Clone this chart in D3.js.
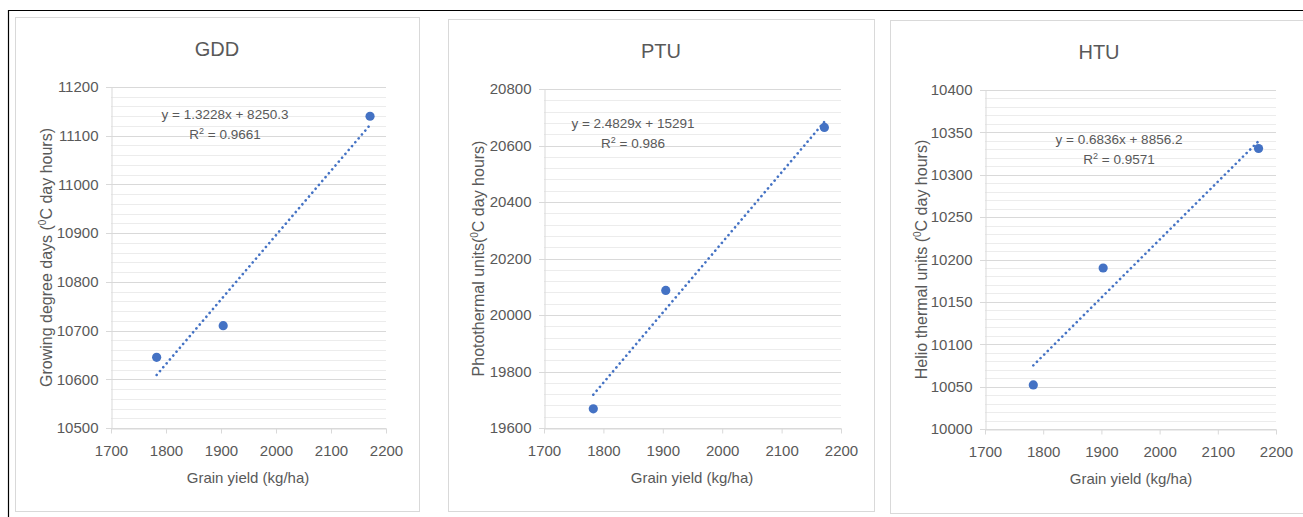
<!DOCTYPE html>
<html>
<head>
<meta charset="utf-8">
<script src="https://cdn.jsdelivr.net/npm/d3@7"></script>
<style>
  body { margin: 0; background: #fff; }
  svg text { font-family: "Liberation Sans", Arial, sans-serif; fill: #595959; }
</style>
</head>
<body>
<div id="chart"></div>
<script>
// data
const titles = ["GDD", "PTU", "HTU"];
const yLabels = ["Growing degree days (", "Photothermal units(", "Helio thermal units ("];
const xTicks = [1700, 1800, 1900, 2000, 2100, 2200];

const yieldGDD = [1783, 1904, 2171];
const valuesGDD = [10645, 10710, 11140];
const yieldPTU = [1783, 1905, 2172];
const valuesPTU = [19668, 20087, 20664];
const yieldHTU = [1783, 1903, 2170];
const valuesHTU = [10052, 10190, 10331];

const yDomains = [[10500, 11200], [19600, 20800], [10000, 10400]];
const yMajorStep = [100, 200, 50];
const yMinorStep = [20, 40, 10];

const slopes = [1.3228, 2.4829, 0.6836];
const intercepts = [8250.3, 15291, 8856.2];
const eqText = ["y = 1.3228x + 8250.3", "y = 2.4829x + 15291", "y = 0.6836x + 8856.2"];
const r2Text = ["0.9661", "0.986", "0.9571"];

// layout of each panel (pixels)
const layout = [
  {box: [15, 17, 419, 511], plot: [111, 386, 87, 428], title: [217, 56], eq: [225, 119], yl: 47, xl: [248, 483]},
  {box: [448, 19, 874, 511], plot: [544, 841, 89, 428], title: [661, 58], eq: [633, 128], yl: 479, xl: [692, 483]},
  {box: [890, 20, 1310, 513], plot: [985, 1276, 90, 429], title: [1099, 59], eq: [1119, 144], yl: 922, xl: [1131, 484]}
];

const xs = [yieldGDD, yieldPTU, yieldHTU];
const ys = [valuesGDD, valuesPTU, valuesHTU];

const W = 1303, H = 517;
const svg = d3.select("#chart").append("svg")
  .attr("width", W).attr("height", H);

// outer black frame (top + left)
svg.append("line").attr("x1", 8).attr("y1", 10.5).attr("x2", W).attr("y2", 10.5)
  .attr("stroke", "#000").attr("stroke-width", 1.2);
svg.append("line").attr("x1", 8.5).attr("y1", 10).attr("x2", 8.5).attr("y2", H)
  .attr("stroke", "#000").attr("stroke-width", 1.2);

titles.forEach((t, i) => {
  const L = layout[i];
  const g = svg.append("g");

  // panel border
  g.append("rect")
    .attr("x", L.box[0] + 0.5).attr("y", L.box[1] + 0.5)
    .attr("width", L.box[2] - L.box[0]).attr("height", L.box[3] - L.box[1])
    .attr("fill", "#fff").attr("stroke", "#d9d9d9");

  const x = d3.scaleLinear().domain([1700, 2200]).range([L.plot[0], L.plot[1]]);
  const y = d3.scaleLinear().domain(yDomains[i]).range([L.plot[3], L.plot[2]]);

  const minor = d3.range(yDomains[i][0], yDomains[i][1] + 0.001, yMinorStep[i]);
  const major = d3.range(yDomains[i][0], yDomains[i][1] + 0.001, yMajorStep[i]);

  // minor gridlines
  g.append("g").selectAll("line")
    .data(minor.filter(v => major.indexOf(v) < 0))
    .join("line")
      .attr("x1", x(1700)).attr("x2", x(2200))
      .attr("y1", d => Math.round(y(d)) + 0.5).attr("y2", d => Math.round(y(d)) + 0.5)
      .attr("stroke", "#ececec");

  // major gridlines
  g.append("g").selectAll("line")
    .data(major)
    .join("line")
      .attr("x1", x(1700) - 5).attr("x2", x(2200))
      .attr("y1", d => Math.round(y(d)) + 0.5).attr("y2", d => Math.round(y(d)) + 0.5)
      .attr("stroke", "#d9d9d9");

  // y axis
  const yAxis = g.append("g")
    .attr("transform", `translate(${Math.round(x(1700)) + 0.5},0)`)
    .call(d3.axisLeft(y).tickValues(major).tickSize(0).tickPadding(13).tickFormat(d3.format("d")));
  yAxis.select(".domain").attr("stroke", "#d9d9d9");
  yAxis.selectAll("text").style("font-size", "15px").attr("fill", "#595959");

  // x axis
  const xAxis = g.append("g")
    .attr("transform", `translate(0,${Math.round(y(yDomains[i][0])) + 0.5})`)
    .call(d3.axisBottom(x).tickValues(xTicks).tickSize(5).tickSizeOuter(0).tickPadding(12).tickFormat(d3.format("d")));
  xAxis.select(".domain").attr("stroke", "#d9d9d9");
  xAxis.selectAll("line").attr("stroke", "#d9d9d9");
  xAxis.selectAll("text").style("font-size", "15px").attr("fill", "#595959");

  // trendline
  const xMin = d3.min(xs[i]), xMax = d3.max(xs[i]);
  g.append("line")
    .attr("x1", x(xMin)).attr("y1", y(slopes[i] * xMin + intercepts[i]))
    .attr("x2", x(xMax)).attr("y2", y(slopes[i] * xMax + intercepts[i]))
    .attr("stroke", "#4472c4").attr("stroke-width", 2.6)
    .attr("stroke-linecap", "round").attr("stroke-dasharray", "0.1,5");

  // points
  g.append("g").selectAll("circle")
    .data(xs[i].map((v, k) => [v, ys[i][k]]))
    .join("circle")
      .attr("cx", d => x(d[0])).attr("cy", d => y(d[1]))
      .attr("r", 4.6).attr("fill", "#4472c4");

  // title
  g.append("text").attr("x", L.title[0]).attr("y", L.title[1])
    .attr("text-anchor", "middle").style("font-size", "20px").text(t);

  // equation + R2
  g.append("text").attr("x", L.eq[0]).attr("y", L.eq[1])
    .attr("text-anchor", "middle").style("font-size", "13.5px").text(eqText[i]);
  const r = g.append("text").attr("x", L.eq[0]).attr("y", L.eq[1] + 20)
    .attr("text-anchor", "middle").style("font-size", "13.5px");
  r.append("tspan").text("R");
  r.append("tspan").attr("dy", -5).style("font-size", "9px").text("2");
  r.append("tspan").attr("dy", 5).text(" = " + r2Text[i]);

  // x label
  g.append("text").attr("x", L.xl[0]).attr("y", L.xl[1])
    .attr("text-anchor", "middle").style("font-size", "15px").text("Grain yield (kg/ha)");

  // y label
  const yc = (L.plot[2] + L.plot[3]) / 2;
  const yl = g.append("text")
    .attr("transform", `translate(${L.yl + 5},${yc}) rotate(-90)`)
    .attr("text-anchor", "middle").style("font-size", "16px");
  yl.append("tspan").text(yLabels[i]);
  yl.append("tspan").attr("dy", -6).style("font-size", "10px").text("0");
  yl.append("tspan").attr("dy", 6).text("C day hours)");
});
</script>
</body>
</html>
